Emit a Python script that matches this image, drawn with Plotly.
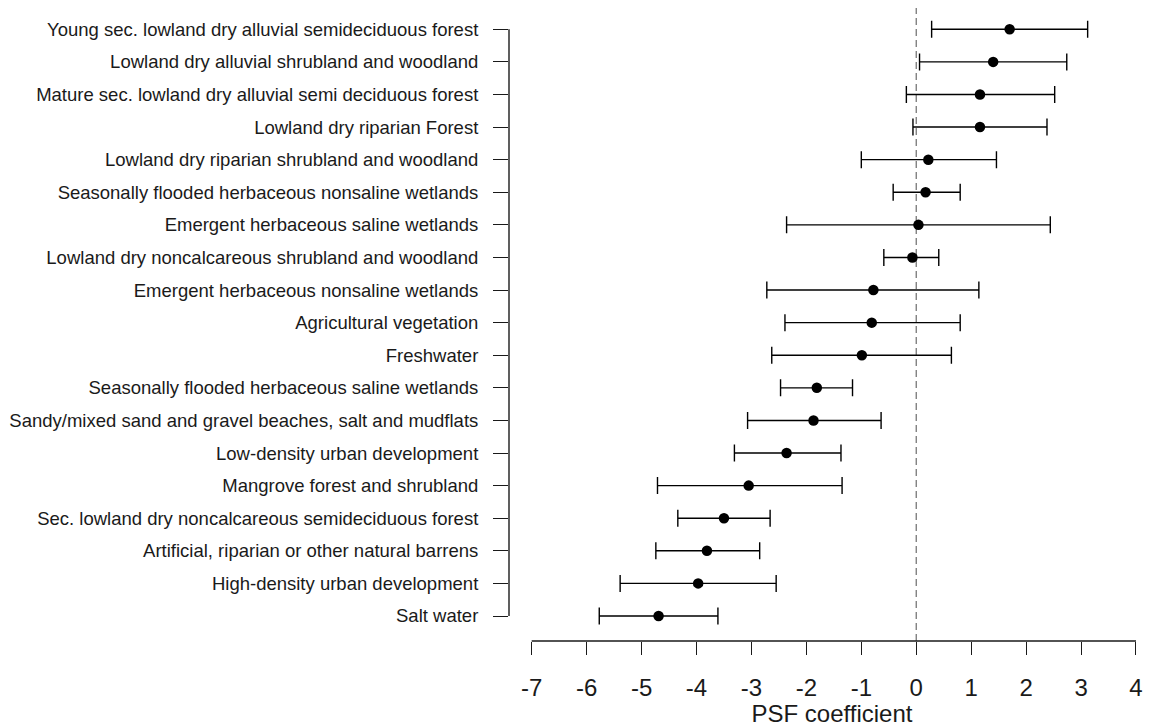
import plotly.graph_objects as go

# Categories listed top to bottom as in the reference
categories = [
    "Young sec. lowland dry alluvial semideciduous forest",
    "Lowland dry alluvial shrubland and woodland",
    "Mature sec. lowland dry alluvial semi deciduous forest",
    "Lowland dry riparian Forest",
    "Lowland dry riparian shrubland and woodland",
    "Seasonally flooded herbaceous nonsaline wetlands",
    "Emergent herbaceous saline wetlands",
    "Lowland dry noncalcareous shrubland and woodland",
    "Emergent herbaceous nonsaline wetlands",
    "Agricultural vegetation",
    "Freshwater",
    "Seasonally flooded herbaceous saline wetlands",
    "Sandy/mixed sand and gravel beaches, salt and mudflats",
    "Low-density urban development",
    "Mangrove forest and shrubland",
    "Sec. lowland dry noncalcareous semideciduous forest",
    "Artificial, riparian or other natural barrens",
    "High-density urban development",
    "Salt water",
]
estimate = [1.70, 1.40, 1.16, 1.16, 0.22, 0.17, 0.04, -0.07, -0.78, -0.81,
            -0.99, -1.81, -1.87, -2.36, -3.05, -3.50, -3.81, -3.97, -4.69]
lower = [0.28, 0.06, -0.18, -0.06, -1.00, -0.42, -2.36, -0.59, -2.72, -2.39,
         -2.63, -2.47, -3.07, -3.31, -4.71, -4.34, -4.74, -5.39, -5.77]
upper = [3.12, 2.74, 2.52, 2.38, 1.46, 0.80, 2.44, 0.41, 1.14, 0.80,
         0.64, -1.16, -0.64, -1.37, -1.35, -2.66, -2.85, -2.55, -3.61]
x_ticks = [-7, -6, -5, -4, -3, -2, -1, 0, 1, 2, 3, 4]

# bottom-to-top order for the category axis
cats_bt = categories[::-1]
est_bt = estimate[::-1]
lo_bt = lower[::-1]
hi_bt = upper[::-1]

FONT = "Liberation Sans, Arial, sans-serif"
INK = "#1a1a1a"

fig = go.Figure()
fig.add_trace(go.Scatter(
    x=est_bt, y=cats_bt, mode="markers",
    marker=dict(symbol="circle", size=10.5, color="black"),
    error_x=dict(
        type="data", symmetric=False,
        array=[h - e for h, e in zip(hi_bt, est_bt)],
        arrayminus=[e - l for e, l in zip(est_bt, lo_bt)],
        color="black", thickness=1.4, width=8.5,
    ),
    showlegend=False,
))

shapes = [
    # x axis line from -7 to 4
    dict(type="line", xref="x", yref="paper", x0=x_ticks[0], x1=x_ticks[-1],
         y0=0, y1=0, line=dict(color=INK, width=1.4)),
    # y axis line from first to last category
    dict(type="line", xref="paper", yref="y", x0=0, x1=0,
         y0=cats_bt[0], y1=cats_bt[-1], line=dict(color=INK, width=1.4)),
    # dashed zero line
    dict(type="line", xref="x", yref="paper", x0=0, x1=0, y0=0, y1=1,
         line=dict(color="#777777", width=1.3, dash="7px,4px"), layer="below"),
]

fig.update_layout(
    width=1147, height=719,
    margin=dict(l=501, r=0, t=0, b=86),
    paper_bgcolor="white", plot_bgcolor="white",
    font=dict(family=FONT, color=INK),
    shapes=shapes,
    xaxis=dict(
        range=[-7.413, 4.346], tickmode="array", tickvals=x_ticks,
        ticktext=[str(v) for v in x_ticks],
        showgrid=False, zeroline=False, showline=False,
        ticks="outside", ticklen=13, tickwidth=1.4, tickcolor=INK,
        tickfont=dict(size=24, family=FONT, color=INK),
        ticklabelstandoff=12,
        title=dict(text="PSF coefficient", font=dict(size=24, family=FONT, color=INK),
                   standoff=4),
    ),
    yaxis=dict(
        type="category", categoryorder="array", categoryarray=cats_bt,
        range=[-0.767, 18.653],
        showgrid=False, zeroline=False, showline=False,
        ticks="outside", ticklen=15, tickwidth=1.4, tickcolor=INK,
        tickfont=dict(size=18.5, family=FONT, color=INK),
        ticklabelstandoff=11,
    ),
)

fig.write_html("out.html")
